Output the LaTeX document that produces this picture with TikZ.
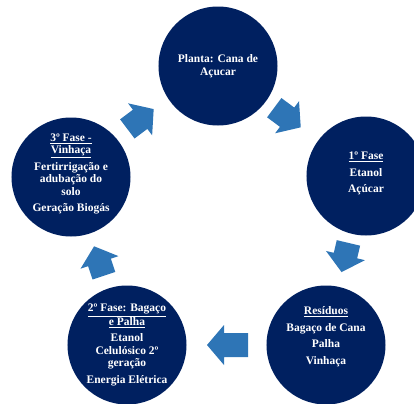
\documentclass[tikz,border=0pt]{standalone}
\usepackage{fontspec}
\setmainfont{Liberation Serif}
\usetikzlibrary{calc}
\definecolor{navy}{HTML}{002060}
\definecolor{arrowblue}{HTML}{2E75B6}

\begin{document}
\begin{tikzpicture}[x=1bp,y=-1bp,
    phase/.style={circle,fill=navy,minimum size=119bp,inner sep=0pt},
    phasetext/.style={text=white,align=center,font=\fontsize{11.5bp}{12.5bp}\selectfont\bfseries},
    pics/cyclearrow/.style={code={
        \fill[arrowblue] (-#1/2,-12) -- (#1/2-17,-12) -- (#1/2-17,-20)
            -- (#1/2,0) -- (#1/2-17,20) -- (#1/2-17,12) -- (-#1/2,12) -- cycle;
    }}]
    \useasboundingbox (0,0) rectangle (414,404);

    % the five stages of the cycle
    \node[phase] (planta) at (218,66) {};
    \node[phase] (fase1) at (366,176) {};
    \node[phase] (residuos) at (326,345) {};
    \node[phase] (fase2) at (127,345) {};
    \node[phase] (fase3) at (71,177) {};

    \node[phasetext] at (planta) {Planta: Cana de\\Açucar};
    \node[phasetext] at ([yshift=2.5bp]fase1) {\underline{1º Fase}\\[4bp]Etanol\\[4bp]Açúcar};
    \node[phasetext] at ([yshift=8.5bp]residuos) {\underline{Resíduos}\\[4bp]Bagaço de Cana\\[4bp]Palha\\[4bp]Vinhaça};
    \node[phasetext] at (fase2) {\underline{2º Fase: Bagaço}\\\underline{e Palha}\\[4bp]Etanol\\Celulósico 2º\\geração\\[4bp]Energia Elétrica};
    \node[phasetext] at ([yshift=3bp]fase3) {\underline{3º Fase -}\\\underline{Vinhaça}\\[4bp]Fertirrigação e\\adubação do\\solo\\[4bp]Geração Biogás};

    % arrows between the stages
    \pic[rotate=37] at ($(fase3)!0.5!(planta)+(-4,-2.5)$) {cyclearrow=33};
    \pic[rotate=-36.6] at ($(planta)!0.5!(fase1)+(-4.5,-3.5)$) {cyclearrow=33};
    \pic[rotate=-103.3] at ($(fase1)!0.5!(residuos)+(-1,-3)$) {cyclearrow=30};
    \pic[rotate=180] at ($(residuos)!0.5!(fase2)+(1,0)$) {cyclearrow=41};
    \pic[rotate=108.4] at ($(fase2)!0.5!(fase3)$) {cyclearrow=31};
\end{tikzpicture}
\end{document}
